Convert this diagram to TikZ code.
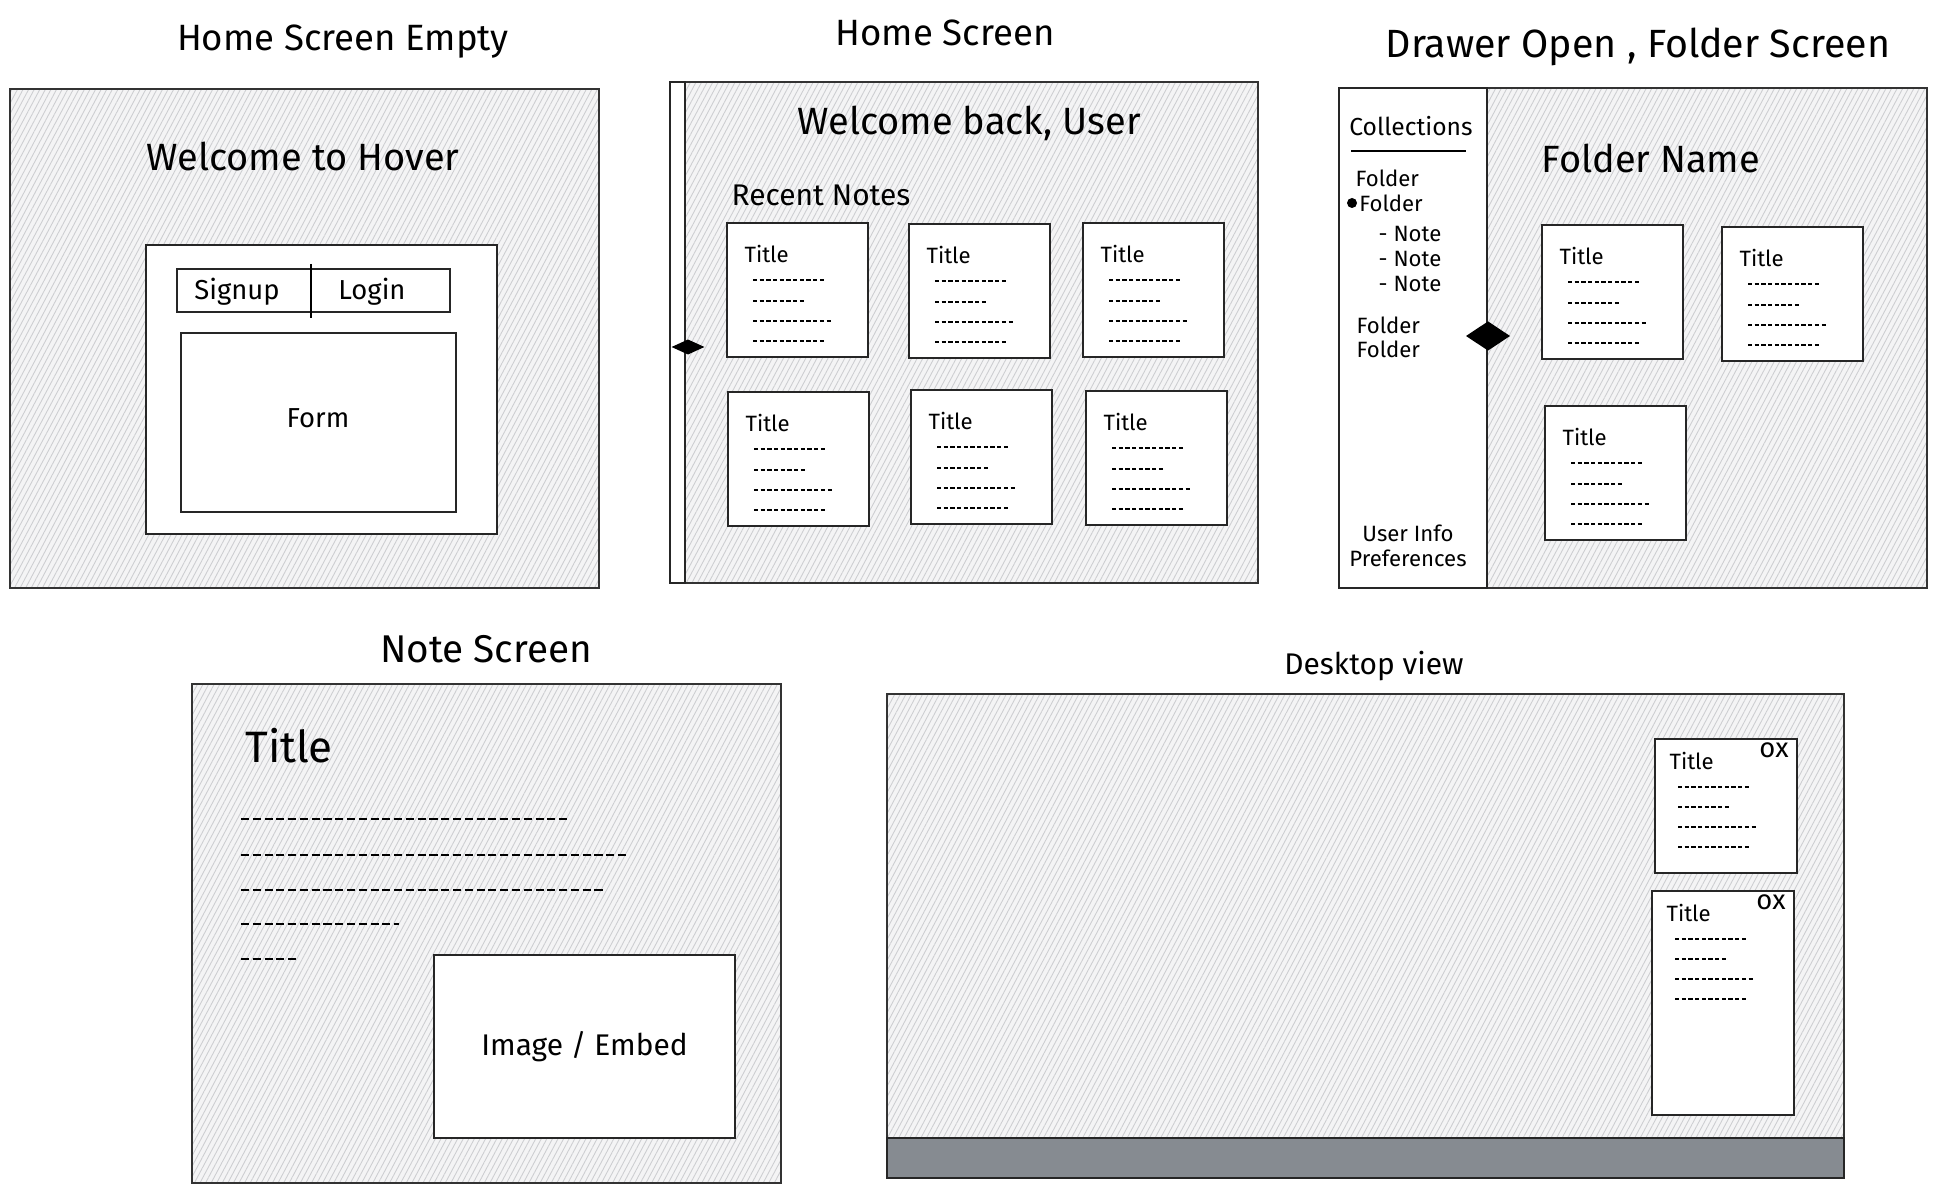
\documentclass[tikz,border=0pt]{standalone}
\usepackage{fontspec}
\setmainfont{Fira Sans}
\usetikzlibrary{patterns.meta,shapes.geometric,fit}

\definecolor{paper}{RGB}{244,244,245}
\definecolor{hatch}{RGB}{205,206,209}
\definecolor{taskbar}{RGB}{134,139,145}

\begin{document}
\begin{tikzpicture}[x=0.01cm,y=-0.01cm,
  screen/.style={draw=black!80,line width=0.6pt,inner sep=0pt,preaction={fill=paper},
    pattern={Lines[angle=62,distance=1.4pt,line width=0.25pt]},pattern color=hatch},
  whitebox/.style={draw=black!85,line width=0.6pt,fill=white,inner sep=0pt},
  handle/.style={diamond,fill=black,draw=black,inner sep=0pt},
  txtline/.style={line width=0.45pt,dash pattern=on 1.2pt off 0.7pt},
  bodyline/.style={line width=0.7pt,dash pattern=on 2.3pt off 1.05pt},
  screenname/.style={font=\fontsize{10.4}{12}\selectfont},
  headline/.style={font=\fontsize{10.8}{12}\selectfont},
  bigtitle/.style={font=\fontsize{12.5}{14}\selectfont,inner sep=0pt},
  subhead/.style={font=\fontsize{8.5}{10}\selectfont},
  btntxt/.style={font=\fontsize{7.8}{9}\selectfont},
  smalltxt/.style={font=\fontsize{6.3}{8}\selectfont,inner sep=0pt},
  pics/notecard/.style={code={
    \draw[whitebox] (0,0) rectangle (141,134);
    \node[smalltxt,anchor=west] (-title) at (17,31) {Title};
    \draw[txtline] (26,57) -- ++(71,0) (26,78) -- ++(51,0) (26,98) -- ++(77.6,0) (26,118) -- ++(71,0);
  }},
  pics/deskcard/.style={code={
    \draw[whitebox] (0,0) rectangle (142,#1);
    \node[smalltxt,anchor=west] (-title) at (14,22) {Title};
    \node[font=\fontsize{7.8}{9}\selectfont,inner sep=0pt] (-close) at (119,11) {ox};
    \draw[txtline] (23,48) -- ++(71,0) (23,68) -- ++(51,0) (23,88) -- ++(77.6,0) (23,108) -- ++(71,0);
  }}]
\useasboundingbox (0,0) rectangle (1937,1192);

% home screen empty
\node[screenname] (emptyname) at (343,42) {Home Screen Empty};
\node[screen,fit={(10,89) (599,588)}] (empty) {};
\node[headline] (welcome) at (303,156) {Welcome to Hover};
\node[whitebox,fit={(146,245) (497,534)}] (auth) {};
\node[whitebox,fit={(177,269) (311,312)}] (signup) {};
\node[whitebox,fit={(311,269) (450,312)}] (login) {};
\draw[line width=0.6pt] (311,264) -- (311,318);
\node[btntxt] (signuptxt) at (237,292) {Signup};
\node[btntxt] (logintxt) at (372,292) {Login};
\node[whitebox,fit={(181,333) (456,512)}] (form) {};
\node[btntxt] (formtxt) at (318,418) {Form};

% home screen
\node[screenname] (homename) at (945,33) {Home Screen};
\node[screen,fit={(670,82) (1258,583)}] (home) {};
\node[whitebox,fit={(670,82) (685,583)}] (rail) {};
\node[handle,minimum width=0.3cm,minimum height=0.14cm] (railknob) at (688,347) {};
\node[headline] (welcomeback) at (969,123) {Welcome back, User};
\node[subhead,anchor=west,inner sep=0pt] (recent) at (731,195) {Recent Notes};
\pic (c1) at (727,223) {notecard};
\pic (c2) at (909,224) {notecard};
\pic (c3) at (1083,223) {notecard};
\pic (c4) at (728,392) {notecard};
\pic (c5) at (911,390) {notecard};
\pic (c6) at (1086,391) {notecard};

% drawer open, folder screen
\node[font=\fontsize{11.2}{13}\selectfont] (foldername) at (1638,47) {Drawer Open , Folder Screen};
\node[screen,fit={(1339,88) (1927,588)}] (folder) {};
\node[whitebox,fit={(1339,88) (1487,588)}] (drawer) {};
\node[handle,minimum width=0.42cm,minimum height=0.28cm] (drawerknob) at (1488,336) {};
\node[font=\fontsize{7}{8}\selectfont] (collections) at (1411,126) {Collections};
\draw[line width=0.6pt] (1351,151) -- (1466,151);
\node[smalltxt,anchor=west] (fa) at (1355,178) {Folder};
\node[circle,fill=black,inner sep=0pt,minimum size=0.1cm] (dot) at (1352,203) {};
\node[smalltxt,anchor=west] (fb) at ([xshift=0.3pt]dot.east) {Folder};
\node[smalltxt,anchor=west] (na) at (1378,234) {- Note};
\node[smalltxt,anchor=west] (nb) at (1378,259) {- Note};
\node[smalltxt,anchor=west] (nc) at (1378,284) {- Note};
\node[smalltxt,anchor=west] (fc) at (1356,325) {Folder};
\node[smalltxt,anchor=west] (fd) at (1356,349) {Folder};
\node[smalltxt] (userinfo) at (1408,533) {User Info};
\node[smalltxt] (prefs) at (1408,558) {Preferences};
\node[headline] (foldertitle) at (1651,158) {Folder Name};
\pic (f1) at (1542,225) {notecard};
\pic (f2) at (1722,227) {notecard};
\pic (f3) at (1545,406) {notecard};

% note screen
\node[font=\fontsize{11}{13}\selectfont] (notename) at (486,649) {Note Screen};
\node[screen,fit={(192,684) (781,1183)}] (note) {};
\node[bigtitle,anchor=west] (notetitle) at (245,746) {Title};
\draw[bodyline] (241,819) -- (568,819) (241,855) -- (629,855) (241,890) -- (606,890)
  (241,924) -- (399,924) (241,959) -- (296,959);
\node[whitebox,fit={(434,955) (735,1138)}] (embed) {};
\node[subhead] (embedtxt) at (embed.center) {Image / Embed};

% desktop view
\node[subhead] (deskname) at (1374,666) {Desktop view};
\node[screen,fit={(887,694) (1844,1178)}] (desk) {};
\node[fill=taskbar,draw=black!85,line width=0.6pt,inner sep=0pt,fit={(887,1138) (1844,1178)}] (bar) {};
\pic (d1) at (1655,739) {deskcard=134};
\pic (d2) at (1652,891) {deskcard=224};
\end{tikzpicture}
\end{document}
